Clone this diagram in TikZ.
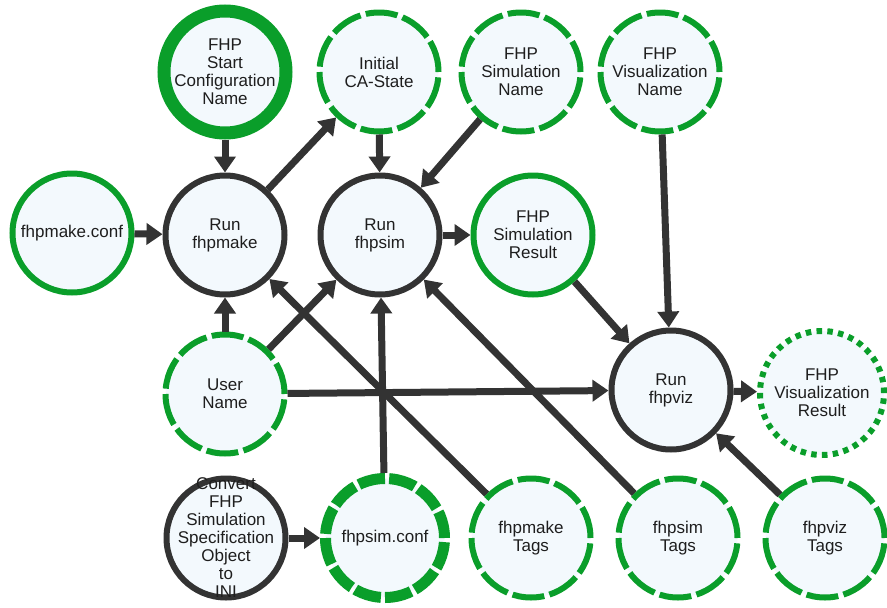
\documentclass[tikz,border=0pt]{standalone}
\usepackage{fontspec}
\setmainfont{Liberation Sans}
\usetikzlibrary{arrows.meta}
\definecolor{grn}{HTML}{0A9E2A}
\definecolor{drk}{HTML}{333333}
\definecolor{fil}{HTML}{F3F9FD}
\definecolor{txt}{HTML}{1E1E1E}
\begin{document}
\begin{tikzpicture}[x=1pt,y=-1pt,
 base/.style={circle, inner sep=0pt, minimum size=119pt, fill=fil},
 proc/.style={base, draw=drk, line width=6pt},
 dsh/.style={base, draw=grn, line width=6pt, dash pattern=on 32pt off 5.38pt},
 sol/.style={base, draw=grn, line width=6pt},
 thk/.style={base, draw=grn, line width=13pt, minimum size=122pt},
 thkdash/.style={base, draw=grn, line width=11pt, dash pattern=on 27pt off 4.15pt},
 dots/.style={base, draw=grn, line width=6pt, minimum size=124pt, dash pattern=on 5.5pt off 5.32pt},
 lbl/.style={align=center, text=txt, inner sep=0pt, font=\fontsize{17}{18}\selectfont},
 arr/.style={draw=drk, line width=7pt, -{Triangle[length=16pt,width=21pt]}}
]
\useasboundingbox (0,0) rectangle (887,608);

% row 1
\node[thk] (start) at (225,72) {};
\node[dsh] (init) at (379,72) {};
\node[dsh] (simname) at (521,72) {};
\node[dsh] (vizname) at (660,72) {};
% row 2
\node[sol] (mkconf) at (72,233) {};
\node[proc] (mk) at (225,235) {};
\node[proc] (sim) at (380,235) {};
\node[sol] (simres) at (533,235) {};
% row 3
\node[dsh] (user) at (225,394) {};
\node[proc] (viz) at (671,390) {};
\node[dots] (vizres) at (822,393) {};
% row 4
\node[proc] (cv) at (226,538) {};
\node[thkdash] (simconf) at (385,538) {};
\node[dsh] (mktags) at (531,538) {};
\node[dsh] (simtags) at (678,538) {};
\node[dsh] (viztags) at (825,538) {};

% labels
\node[lbl] (tstart) at (start) {FHP\\Start\\Configuration\\Name};
\node[lbl] (tinit) at (init) {Initial\\CA-State};
\node[lbl] (tsimname) at (simname) {FHP\\Simulation\\Name};
\node[lbl] (tvizname) at (vizname) {FHP\\Visualization\\Name};
\node[lbl] (tmkconf) at (mkconf) {fhpmake.conf};
\node[lbl] (tmk) at (mk) {Run\\fhpmake};
\node[lbl] (tsim) at (sim) {Run\\fhpsim};
\node[lbl] (tsimres) at (simres) {FHP\\Simulation\\Result};
\node[lbl] (tuser) at (user) {User\\Name};
\node[lbl] (tviz) at (viz) {Run\\fhpviz};
\node[lbl] (tvizres) at (vizres) {FHP\\Visualization\\Result};
\node[lbl] (tcv) at (cv) {Convert\\FHP\\Simulation\\Specification\\Object\\to\\INI};
\node[lbl] (tsimconf) at (simconf) {fhpsim.conf};
\node[lbl] (tmktags) at (mktags) {fhpmake\\Tags};
\node[lbl] (tsimtags) at (simtags) {fhpsim\\Tags};
\node[lbl] (tviztags) at (viztags) {fhpviz\\Tags};

% edges
\draw[arr] (start) -- (mk);
\draw[arr] (mkconf) -- (mk);
\draw[arr] (user) -- (mk);
\draw[arr] (mk) -- (init);
\draw[arr] (init) -- (sim);
\draw[arr] (simname) -- (sim);
\draw[arr] (user) -- (sim);
\draw[arr] (simconf) -- (sim);
\draw[arr] (mktags) -- (mk);
\draw[arr] (simtags) -- (sim);
\draw[arr] (sim) -- (simres);
\draw[arr] (simres) -- (viz);
\draw[arr] (vizname) -- (viz);
\draw[arr] (user) -- (viz);
\draw[arr] (viz) -- (vizres);
\draw[arr] (viztags) -- (viz);
\draw[arr] (cv) -- (simconf);
\end{tikzpicture}
\end{document}
